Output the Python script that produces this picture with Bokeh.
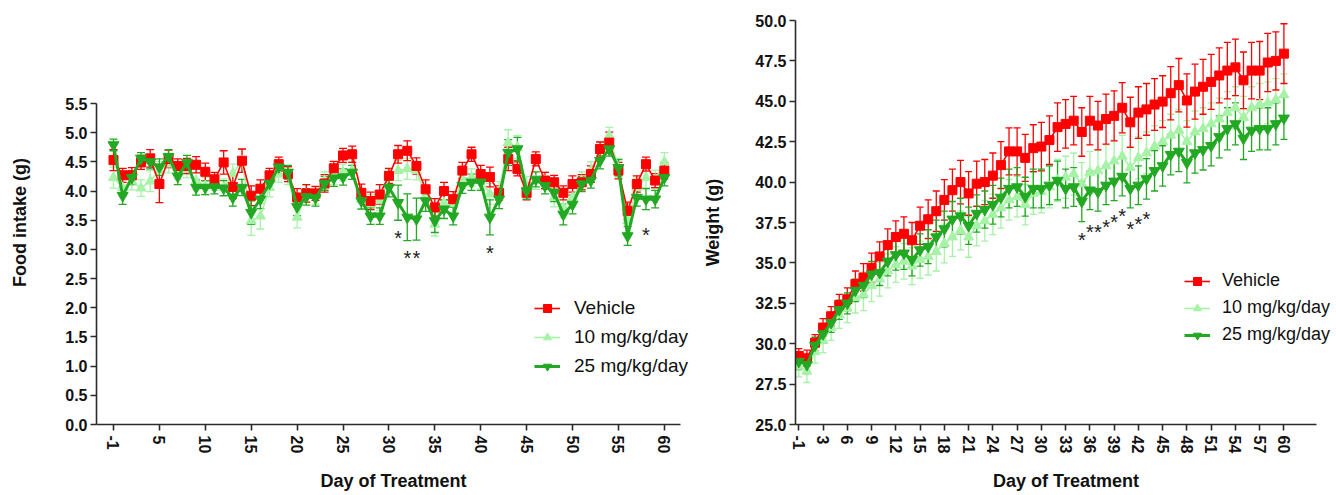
from bokeh.plotting import figure
from bokeh.models import (ColumnDataSource, Whisker, TeeHead, FixedTicker,
                          Legend, LegendItem, Range1d, NumeralTickFormatter)
from bokeh.layouts import row
from bokeh.embed import file_html
from bokeh.resources import INLINE
from bokeh.core.properties import value

# ---------------- data ----------------
days = [-1] + list(range(1, 61))          # day of treatment (day -1 sits one slot before day 1)

series_names = ["Vehicle", "10 mg/kg/day", "25 mg/kg/day"]

# Food intake (g), mean
food_vehicle = [4.53, 4.27, 4.27, 4.49, 4.56, 4.12, 4.55, 4.43, 4.43, 4.45,
                4.33, 4.20, 4.49, 4.07, 4.52, 3.92, 4.04, 4.27, 4.46, 4.29,
                3.89, 3.96, 3.96, 4.13, 4.39, 4.61, 4.63, 3.97, 3.83, 3.94,
                4.26, 4.63, 4.69, 4.43, 4.03, 3.72, 4.00, 3.86, 4.35, 4.63,
                4.29, 4.24, 3.97, 4.55, 4.38, 3.97, 4.55, 4.18, 4.15, 3.97,
                4.12, 4.15, 4.29, 4.72, 4.83, 4.35, 3.66, 4.12, 4.46, 4.18,
                4.35]
food_10 = [4.23, 4.06, 4.17, 4.05, 4.17, 4.35, 4.46, 4.35, 4.37, 4.17,
           4.09, 4.15, 4.06, 4.30, 4.52, 3.49, 3.57, 4.06, 4.29, 4.26,
           3.55, 3.95, 3.92, 4.18, 4.26, 4.32, 4.35, 3.86, 3.78, 3.83,
           4.23, 4.35, 4.38, 4.35, 3.92, 3.43, 3.80, 3.78, 4.20, 4.23,
           4.20, 3.95, 4.00, 4.83, 4.75, 4.09, 4.18, 4.18, 3.89, 3.72,
           3.89, 4.18, 4.35, 4.69, 4.95, 4.40, 3.49, 4.06, 4.23, 4.20,
           4.50]
food_25 = [4.79, 3.92, 4.23, 4.56, 4.50, 4.41, 4.59, 4.25, 4.49, 4.06,
           4.06, 4.07, 4.05, 3.89, 4.06, 3.63, 3.86, 4.13, 4.41, 4.32,
           3.73, 3.90, 3.88, 4.13, 4.22, 4.24, 4.32, 3.83, 3.57, 3.57,
           4.06, 3.80, 3.55, 3.52, 3.83, 3.49, 3.69, 3.57, 4.09, 4.15,
           4.15, 3.55, 3.86, 4.66, 4.72, 4.00, 4.20, 4.09, 3.97, 3.60,
           3.77, 4.12, 4.18, 4.52, 4.72, 4.40, 3.23, 3.89, 3.86, 3.86,
           4.23]
# Food intake SEM
food_vehicle_err = [0.18, 0.12, 0.13, 0.12, 0.15, 0.32, 0.15, 0.12, 0.13, 0.14,
                    0.15, 0.12, 0.20, 0.20, 0.20, 0.17, 0.15, 0.12, 0.12, 0.13,
                    0.15, 0.15, 0.12, 0.15, 0.12, 0.12, 0.14, 0.15, 0.15, 0.17,
                    0.13, 0.15, 0.17, 0.14, 0.16, 0.15, 0.15, 0.13, 0.14, 0.12,
                    0.15, 0.17, 0.12, 0.20, 0.12, 0.12, 0.12, 0.14, 0.12, 0.12,
                    0.14, 0.13, 0.14, 0.12, 0.18, 0.14, 0.15, 0.14, 0.12, 0.12,
                    0.14]
food_10_err = [0.18, 0.15, 0.15, 0.14, 0.18, 0.16, 0.15, 0.15, 0.14, 0.15,
               0.15, 0.14, 0.15, 0.16, 0.20, 0.25, 0.22, 0.16, 0.14, 0.15,
               0.18, 0.15, 0.15, 0.15, 0.15, 0.14, 0.15, 0.16, 0.16, 0.16,
               0.15, 0.17, 0.18, 0.16, 0.17, 0.20, 0.17, 0.16, 0.15, 0.15,
               0.16, 0.18, 0.16, 0.22, 0.20, 0.16, 0.15, 0.15, 0.16, 0.18,
               0.16, 0.15, 0.15, 0.16, 0.14, 0.16, 0.20, 0.16, 0.17, 0.16,
               0.16]
food_25_err = [0.10, 0.15, 0.12, 0.10, 0.12, 0.14, 0.12, 0.14, 0.12, 0.13,
               0.12, 0.12, 0.13, 0.15, 0.14, 0.20, 0.16, 0.12, 0.12, 0.12,
               0.15, 0.14, 0.14, 0.12, 0.14, 0.14, 0.12, 0.14, 0.14, 0.14,
               0.16, 0.30, 0.40, 0.36, 0.18, 0.20, 0.16, 0.15, 0.13, 0.14,
               0.14, 0.30, 0.16, 0.22, 0.20, 0.14, 0.13, 0.14, 0.15, 0.18,
               0.16, 0.13, 0.13, 0.14, 0.12, 0.14, 0.16, 0.15, 0.18, 0.15,
               0.14]

# Body weight (g), mean
weight_vehicle = [29.24, 29.10, 30.06, 31.00, 31.70, 32.40, 32.75, 33.70, 34.10, 34.70,
                  35.40, 36.10, 36.60, 36.80, 36.40, 37.30, 37.70, 38.20, 38.90, 39.50,
                  40.00, 39.30, 39.90, 40.00, 40.40, 41.05, 41.90, 41.90, 41.50, 42.10,
                  42.20, 42.60, 43.40, 43.60, 43.80, 43.10, 43.80, 43.50, 43.90, 44.10,
                  44.60, 43.70, 44.30, 44.50, 44.80, 44.98, 45.50, 46.00, 45.05, 45.60,
                  45.90, 46.20, 46.60, 46.90, 47.10, 46.30, 46.90, 46.90, 47.40, 47.50,
                  47.95]
weight_10 = [28.60, 28.30, 29.50, 30.20, 31.00, 31.80, 32.20, 32.85, 33.05, 33.60,
             34.00, 34.50, 34.90, 35.10, 34.80, 35.20, 35.40, 35.70, 36.20, 36.60,
             37.00, 36.60, 37.30, 37.60, 38.00, 38.40, 38.90, 39.10, 38.60, 39.30,
             39.40, 39.70, 40.10, 40.30, 40.50, 39.90, 40.60, 40.70, 41.00, 41.30,
             41.60, 40.90, 41.50, 41.80, 42.20, 42.50, 42.90, 43.20, 42.50, 43.10,
             43.30, 43.60, 43.90, 44.30, 44.60, 44.00, 44.60, 44.80, 44.90, 45.10,
             45.40]
weight_25 = [28.90, 28.70, 29.90, 30.60, 31.30, 32.10, 32.50, 33.30, 33.60, 34.30,
             34.40, 35.10, 35.50, 35.60, 35.20, 35.80, 36.00, 36.60, 37.10, 37.70,
             37.90, 37.30, 38.06, 38.30, 38.60, 39.05, 39.60, 39.70, 39.10, 39.60,
             39.60, 39.80, 40.10, 39.60, 39.70, 38.80, 39.50, 39.40, 39.80, 40.05,
             40.35, 39.60, 39.80, 40.20, 40.70, 41.00, 41.70, 41.90, 41.20, 41.80,
             42.00, 42.25, 42.80, 43.30, 43.60, 42.70, 43.20, 43.30, 43.30, 43.60,
             43.95]
# Body weight SEM
weight_vehicle_err = [0.45, 0.50, 0.50, 0.55, 0.60, 0.65, 0.70, 0.80, 0.85, 0.90,
                      0.90, 1.00, 1.00, 1.05, 1.10, 1.15, 1.20, 1.25, 1.25, 1.30,
                      1.35, 1.35, 1.40, 1.40, 1.40, 1.45, 1.45, 1.45, 1.45, 1.45,
                      1.50, 1.50, 1.50, 1.50, 1.50, 1.50, 1.50, 1.50, 1.55, 1.55,
                      1.55, 1.55, 1.60, 1.60, 1.60, 1.60, 1.65, 1.65, 1.65, 1.70,
                      1.70, 1.70, 1.70, 1.75, 1.75, 1.75, 1.75, 1.80, 1.80, 1.80,
                      1.85]
weight_10_err = [0.65, 0.70, 0.70, 0.75, 0.80, 0.85, 0.90, 0.95, 1.00, 1.00,
                 1.05, 1.05, 1.10, 1.10, 1.15, 1.15, 1.15, 1.20, 1.20, 1.20,
                 1.20, 1.25, 1.25, 1.25, 1.25, 1.25, 1.25, 1.25, 1.25, 1.30,
                 1.30, 1.30, 1.30, 1.30, 1.30, 1.30, 1.30, 1.30, 1.30, 1.30,
                 1.30, 1.30, 1.30, 1.30, 1.30, 1.30, 1.30, 1.30, 1.30, 1.30,
                 1.30, 1.30, 1.30, 1.30, 1.30, 1.30, 1.30, 1.30, 1.30, 1.30,
                 1.30]
weight_25_err = [0.50, 0.55, 0.50, 0.55, 0.60, 0.60, 0.65, 0.70, 0.75, 0.80,
                 0.80, 0.90, 0.95, 1.00, 1.00, 1.00, 1.05, 1.05, 1.10, 1.10,
                 1.10, 1.15, 1.15, 1.15, 1.20, 1.20, 1.20, 1.20, 1.20, 1.20,
                 1.20, 1.20, 1.20, 1.20, 1.20, 1.25, 1.20, 1.20, 1.20, 1.20,
                 1.20, 1.20, 1.20, 1.25, 1.25, 1.25, 1.25, 1.25, 1.25, 1.25,
                 1.25, 1.25, 1.30, 1.30, 1.30, 1.30, 1.30, 1.30, 1.30, 1.30,
                 1.30]

# significance marks (day, y)
food_sig_days = [31, 32, 33, 41, 58]
food_sig_y = [3.38, 3.04, 3.04, 3.13, 3.43]
weight_sig_days = [35, 36, 37, 38, 39, 40, 41, 42, 43]
weight_sig_y = [37.1, 37.6, 37.6, 37.9, 38.2, 38.6, 37.8, 38.1, 38.4]

food_ticks = [-1, 5, 10, 15, 20, 25, 30, 35, 40, 45, 50, 55, 60]
weight_ticks = [-1, 3, 6, 9, 12, 15, 18, 21, 24, 27, 30, 33, 36, 39, 42, 45, 48, 51, 54, 57, 60]
food_yticks = [0.0, 0.5, 1.0, 1.5, 2.0, 2.5, 3.0, 3.5, 4.0, 4.5, 5.0, 5.5]
weight_yticks = [25.0, 27.5, 30.0, 32.5, 35.0, 37.5, 40.0, 42.5, 45.0, 47.5, 50.0]

# ---------------- styling ----------------
RED = "#FF0000"
LIGHT = "#A6F2A6"
GREEN = "#22A822"
AX = "#2b2b2b"
FONT = "Liberation Sans"

TOP, BOTTOM = 20, 71          # shared frame borders (px)
H = 495


def slot(d):
    return 0 if d == -1 else d


def style_axes(p, xb, yb, xlabel, ylabel, ylab_standoff):
    p.xgrid.visible = False
    p.ygrid.visible = False
    p.outline_line_color = None
    for ax in (p.xaxis[0], p.yaxis[0]):
        ax.axis_line_color = AX
        ax.axis_line_width = 1.6
        ax.major_tick_line_color = AX
        ax.major_tick_line_width = 1.6
        ax.major_tick_out = 6
        ax.major_tick_in = 0
        ax.minor_tick_line_color = None
        ax.major_label_text_font = FONT
        ax.major_label_text_font_style = "bold"
        ax.major_label_text_font_size = "16px"
        ax.major_label_text_color = "#111111"
        ax.axis_label_text_font = FONT
        ax.axis_label_text_font_style = "bold"
        ax.axis_label_text_font_size = "18px"
        ax.axis_label_text_color = "#111111"
    p.xaxis[0].bounds = xb
    p.yaxis[0].bounds = yb
    p.xaxis[0].axis_label = xlabel
    p.yaxis[0].axis_label = ylabel
    p.xaxis[0].major_label_orientation = "vertical"
    p.xaxis[0].major_label_standoff = 5
    p.xaxis[0].axis_label_standoff = 15
    p.yaxis[0].major_label_standoff = 3
    p.yaxis[0].axis_label_standoff = ylab_standoff


def add_series(p, x, ys, errs, color, marker, msize, lw, cap):
    src = ColumnDataSource(dict(x=x, y=ys,
                                lo=[a - b for a, b in zip(ys, errs)],
                                hi=[a + b for a, b in zip(ys, errs)]))
    w = Whisker(source=src, base="x", lower="lo", upper="hi",
                line_color=color, line_width=1.3,
                upper_head=TeeHead(size=cap, line_color=color, line_width=1.3),
                lower_head=TeeHead(size=cap, line_color=color, line_width=1.3))
    p.add_layout(w)
    lr = p.line("x", "y", source=src, line_color=color, line_width=lw)
    sr = p.scatter("x", "y", source=src, marker=marker, size=msize,
                   fill_color=color, line_color=color)
    return [lr, sr]


def make_legend(p, items, loc, fsize, spacing, standoff):
    lg = Legend(items=items, location=loc)
    lg.label_text_font = FONT
    lg.label_text_font_size = fsize
    lg.label_text_color = "#111111"
    lg.glyph_width = 26
    lg.glyph_height = 20
    lg.label_height = 20
    lg.spacing = spacing
    lg.label_standoff = standoff
    lg.padding = 0
    lg.margin = 0
    lg.border_line_color = None
    lg.background_fill_alpha = 0
    p.add_layout(lg)


def add_stars(p, xs, ys):
    p.text(x=xs, y=ys, text=["*"] * len(xs),
           text_font=value(FONT), text_font_size="20px", text_color="#222222",
           text_align="center", text_baseline="alphabetic", y_offset=11)


x_pos = [slot(d) for d in days]

# ---------------- left: food intake ----------------
# frame spans 96..690 px horizontally, 20..424 px vertically; 5.5 g sits at 103 px
left_top = 5.5 * (424 - TOP) / (424 - 103)
p1 = figure(width=700, height=H, output_backend="svg", toolbar_location=None,
            x_range=Range1d(-1.85, 62.85), y_range=Range1d(0, left_top),
            min_border_left=96, min_border_right=10, min_border_top=TOP, min_border_bottom=BOTTOM)
r_l = add_series(p1, x_pos, food_10, food_10_err, LIGHT, "triangle", 10, 1.6, 8)
r_r = add_series(p1, x_pos, food_vehicle, food_vehicle_err, RED, "square", 9, 1.6, 8)
r_g = add_series(p1, x_pos, food_25, food_25_err, GREEN, "inverted_triangle", 11, 3, 8)
add_stars(p1, food_sig_days, food_sig_y)
style_axes(p1, (-1.85, 61.8), (0, 5.5), "Day of Treatment", "Food intake (g)", 32)
p1.xaxis[0].ticker = FixedTicker(ticks=[slot(t) for t in food_ticks])
p1.xaxis[0].major_label_overrides = {slot(t): str(t) for t in food_ticks}
p1.yaxis[0].ticker = FixedTicker(ticks=food_yticks)
p1.yaxis[0].formatter = NumeralTickFormatter(format="0.0")
make_legend(p1, [LegendItem(label=series_names[0], renderers=r_r),
                 LegendItem(label=series_names[1], renderers=r_l),
                 LegendItem(label=series_names[2], renderers=r_g)],
            (534 - 96, 424 - 377), "19px", 7, 14)

# ---------------- right: body weight ----------------
# frame spans 794..1336 px; day slot 0 at 797.3 px, 8.1 px per day
p2 = figure(width=636, height=H, output_backend="svg", toolbar_location=None,
            x_range=Range1d(-0.41, -0.41 + 542 / 8.1), y_range=Range1d(25, 50),
            min_border_left=94, min_border_right=0, min_border_top=TOP, min_border_bottom=BOTTOM)
q_l = add_series(p2, x_pos, weight_10, weight_10_err, LIGHT, "triangle", 10, 1.6, 7)
q_r = add_series(p2, x_pos, weight_vehicle, weight_vehicle_err, RED, "square", 9, 1.6, 7)
q_g = add_series(p2, x_pos, weight_25, weight_25_err, GREEN, "inverted_triangle", 11, 3, 7)
add_stars(p2, weight_sig_days, weight_sig_y)
style_axes(p2, (-0.41, 64.0), (25, 50), "Day of Treatment", "Weight (g)", 29)
p2.xaxis[0].ticker = FixedTicker(ticks=[slot(t) for t in weight_ticks])
p2.xaxis[0].major_label_overrides = {slot(t): str(t) for t in weight_ticks}
p2.yaxis[0].ticker = FixedTicker(ticks=weight_yticks)
p2.yaxis[0].formatter = NumeralTickFormatter(format="0.0")
make_legend(p2, [LegendItem(label=series_names[0], renderers=q_r),
                 LegendItem(label=series_names[1], renderers=q_l),
                 LegendItem(label=series_names[2], renderers=q_g)],
            (1183 - 794, 424 - 345), "18px", 6, 12)

layout = row(p1, p2)
open("out.html", "w").write(file_html(layout, INLINE))
